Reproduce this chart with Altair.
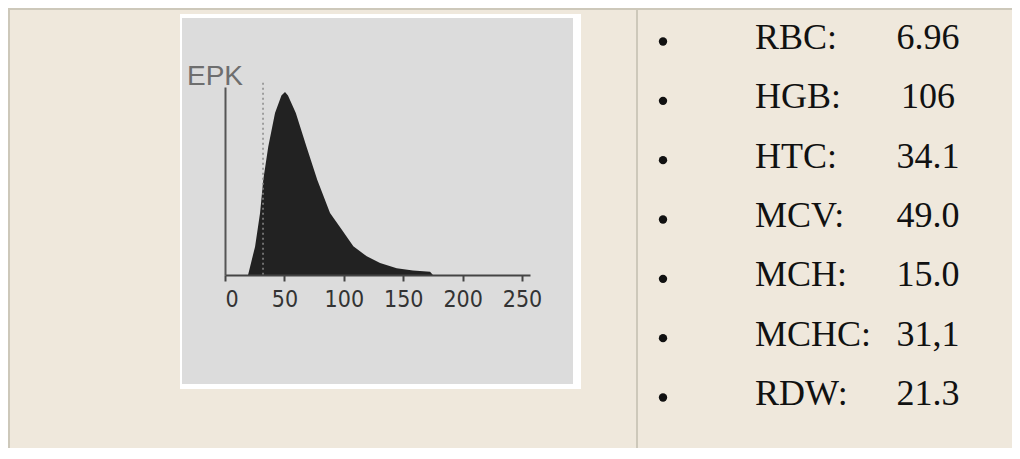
import altair as alt
import pandas as pd

# ---- data ----
names = ["RBC:", "HGB:", "HTC:", "MCV:", "MCH:", "MCHC:", "RDW:"]
values = ["6.96", "106", "34.1", "49.0", "15.0", "31,1", "21.3"]

# erythrocyte volume histogram (fL) vs relative count (%)
hist_x = [19.4, 25.3, 29.5, 32.2, 36.4, 42.1, 47.5, 50.5, 53, 59.6, 68.6, 77.7,
          88.4, 98.2, 108, 119.3, 130.5, 144.5, 158.2, 172.6, 175]
hist_y = [0, 15.5, 33.9, 51.9, 70.1, 88.5, 98, 100, 98, 88.5, 70.1, 51.9,
          33.9, 24.8, 15.7, 10.2, 6.5, 3.7, 2.4, 1.8, 0]
x_ticks = [0, 50, 100, 150, 200, 250]
cutoff_x = [32]
cutoff_top = [105]
y_label = "EPK"

# ---- layout ----
W, H = 1004, 440
BEIGE = "#efe8dc"
LINE = "#cdc8ba"

hist_df = pd.DataFrame({"v": hist_x, "n": hist_y})
cut_df = pd.DataFrame({"v": cutoff_x, "top": cutoff_top, "bot": [0]})
rows = pd.DataFrame({"name": names, "value": values})
one = pd.DataFrame({"k": [0]})

xs = alt.Scale(domain=[0, 256.7], range=[217, 522])
ys = alt.Scale(domain=[0, 102.7], range=[267, 79])
rs = alt.Scale(type="point", domain=names, range=[41, 397], padding=0)

x_axis = alt.Axis(
    values=x_ticks, orient="bottom", offset=267 - H, title=None, grid=False,
    zindex=2, domainColor="#444", domainWidth=2, tickColor="#444", tickWidth=2,
    tickSize=6, labelPadding=7, labelFontSize=23, labelColor="#333333",
    labelFont="Liberation Sans Narrow, DejaVu Sans Condensed, sans-serif")

frame = alt.Chart(one).mark_rect(color="white").encode(
    x=alt.value(172), x2=alt.value(573), y=alt.value(6), y2=alt.value(381))
panel = alt.Chart(one).mark_rect(color="#dcdcdc").encode(
    x=alt.value(174), x2=alt.value(565), y=alt.value(10), y2=alt.value(376))

top_line = alt.Chart(one).mark_rule(color=LINE, strokeWidth=2).encode(
    x=alt.value(0), x2=alt.value(W), y=alt.value(1))
left_line = alt.Chart(one).mark_rule(color=LINE, strokeWidth=2).encode(
    x=alt.value(1), y=alt.value(0), y2=alt.value(H))
divider = alt.Chart(one).mark_rule(color=LINE, strokeWidth=2).encode(
    x=alt.value(629), y=alt.value(0), y2=alt.value(H))

area = alt.Chart(hist_df).mark_area(color="#222222", interpolate="linear").encode(
    x=alt.X("v:Q", scale=xs, axis=x_axis),
    y=alt.Y("n:Q", scale=ys, axis=alt.Axis(
        orient="left", offset=-217, title=None, grid=False, ticks=False, zindex=2,
        labels=False, domainColor="#555", domainWidth=2)),
)

cut = alt.Chart(cut_df).mark_rule(color="#8a8a8a", strokeDash=[2, 3], strokeWidth=1.5).encode(
    x=alt.X("v:Q", scale=xs, axis=x_axis),
    y=alt.Y("top:Q", scale=ys, axis=None),
    y2="bot:Q",
)

epk = alt.Chart(one).mark_text(text=y_label, align="left", baseline="alphabetic",
                               font="Liberation Sans", fontSize=28, color="#6e6e6e").encode(
    x=alt.value(179), y=alt.value(77))

bullets = alt.Chart(rows).mark_point(filled=True, shape="circle", size=70,
                                     color="#111", opacity=1, yOffset=-7.5).encode(
    x=alt.value(655), y=alt.Y("name:N", scale=rs, axis=None))

labels = alt.Chart(rows).mark_text(align="left", baseline="alphabetic",
                                   font="Liberation Serif", fontSize=36, color="#111").encode(
    x=alt.value(747), y=alt.Y("name:N", scale=rs, axis=None), text="name:N")

vals = alt.Chart(rows).mark_text(align="center", baseline="alphabetic",
                                 font="Liberation Serif", fontSize=36, color="#111").encode(
    x=alt.value(920), y=alt.Y("name:N", scale=rs, axis=None), text="value:N")

chart = alt.layer(
    frame, panel, top_line, left_line, divider, area, cut, epk, bullets, labels, vals
).resolve_scale(y="independent").properties(
    width=W, height=H, padding=0, autosize="none", background=BEIGE
).configure_view(stroke=None, fill=BEIGE)

chart.save("out.html", embed_options={"renderer": "svg", "actions": False})
